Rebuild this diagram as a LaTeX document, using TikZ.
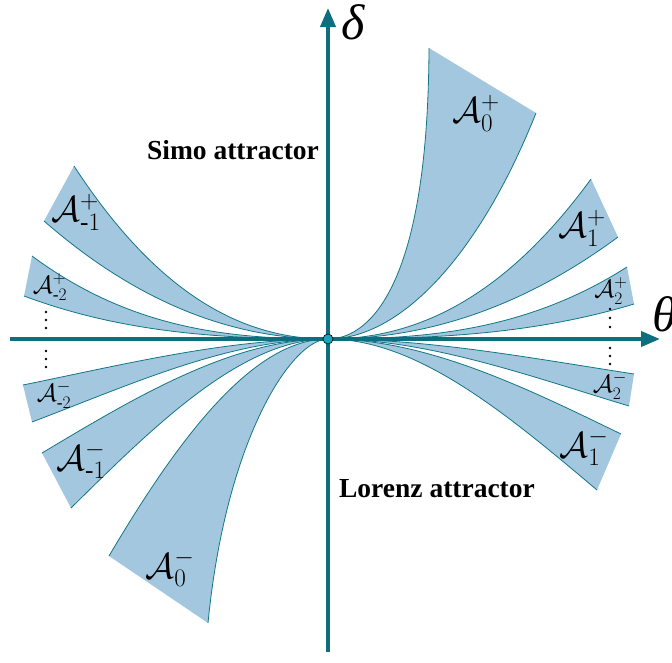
\RequirePackage{fix-cm}
\documentclass[tikz,border=0pt]{standalone}
\usepackage{amsmath}
\usepackage{fontspec}
\setmainfont{Liberation Serif}
\usetikzlibrary{arrows.meta}
\definecolor{axiscol}{RGB}{14,110,128}
\definecolor{bandfill}{RGB}{163,199,223}
\definecolor{bandline}{RGB}{18,118,135}
\definecolor{origfill}{RGB}{26,166,184}
% name, end x, end y, a, b, c
\newcommand{\curvepts}[6]{%
  \coordinate (#1e) at (#2,#3);
  \coordinate (#1a) at ({328+#4*(#2-328)},339);
  \coordinate (#1b) at ({328+#5*(#2-328)},{339+#6*(#3-339)});
}
\newcommand{\bandfrom}[2]{%
  \fill[bandfill] (O) .. controls (#1a) and (#1b) .. (#1e) -- (#2e) .. controls (#2b) and (#2a) .. (O) -- cycle;
  \draw[curve] (O) .. controls (#1a) and (#1b) .. (#1e);
  \draw[curve] (O) .. controls (#2a) and (#2b) .. (#2e);
}
\tikzset{
  curve/.style={draw=bandline, line width=0.8pt},
  axisline/.style={draw=axiscol, line width=4pt, -{Triangle[length=19pt,width=15pt]}},
  biglbl/.style={inner sep=0pt, font=\fontsize{36}{42}\selectfont},
  smalllbl/.style={inner sep=0pt, font=\fontsize{25}{30}\selectfont},
  attr/.style={inner sep=0pt, font=\fontsize{27.5}{32}\selectfont\bfseries},
  axlbl/.style={inner sep=0pt, font=\fontsize{50}{56}\selectfont\itshape},
  dotmark/.style={fill=black}
}
\begin{document}
\begin{tikzpicture}[x=1pt,y=-1pt]
\useasboundingbox (0,0) rectangle (672,662);
\coordinate (O) at (328,339);
% curves
\curvepts{p0i}{429}{48}{0.35}{0.99}{0.137}
\curvepts{p0o}{536}{113}{0.34}{0.72}{0.354}
\curvepts{p1u}{591}{179}{0.333}{0.667}{0.25}
\curvepts{p1l}{618}{237}{0.333}{0.667}{0.3}
\curvepts{p2u}{627}{267}{0.333}{0.667}{0.12}
\curvepts{p2l}{634}{304}{0.333}{0.667}{0.12}
\curvepts{m2u}{634}{374}{0.333}{0.667}{0.55}
\curvepts{m2l}{629}{406}{0.333}{0.667}{0.55}
\curvepts{m1u}{621}{434}{0.333}{0.667}{0.5}
\curvepts{m1l}{597}{490}{0.333}{0.667}{0.5}
\curvepts{m0i}{208}{623}{0.3}{0.85}{0.35}
\curvepts{m0o}{109}{556}{0.333}{0.667}{0.43}
\curvepts{nm1l}{71}{508}{0.333}{0.667}{0.5}
\curvepts{nm1u}{42}{453}{0.333}{0.667}{0.5}
\curvepts{nm2l}{32}{422}{0.333}{0.667}{0.55}
\curvepts{nm2u}{23}{385}{0.333}{0.667}{0.55}
\curvepts{np2l}{24}{296}{0.333}{0.667}{0.12}
\curvepts{np2u}{32}{256}{0.333}{0.667}{0.12}
\curvepts{np1l}{44}{221}{0.333}{0.667}{0.3}
\curvepts{np1u}{74}{166}{0.333}{0.667}{0.25}
% bands
\bandfrom{p0i}{p0o}
\bandfrom{p1u}{p1l}
\bandfrom{p2u}{p2l}
\bandfrom{m2u}{m2l}
\bandfrom{m1u}{m1l}
\bandfrom{m0i}{m0o}
\bandfrom{nm1l}{nm1u}
\bandfrom{nm2l}{nm2u}
\bandfrom{np2l}{np2u}
\bandfrom{np1l}{np1u}
% axes
\coordinate (xl) at (10,339);
\coordinate (xr) at (660,339);
\coordinate (yb) at (328,652);
\coordinate (yt) at (328,8);
\draw[axisline] (xl) -- (xr);
\draw[axisline] (yb) -- (yt);
\node[circle, draw=black, fill=origfill, inner sep=0pt, minimum size=10pt, line width=0.6pt] (orig) at (O) {};
% dots
\foreach \yy in {312,320,328,351,359,367} \fill[dotmark] (46,\yy) circle (1.4pt);
\foreach \yy in {309,318,327,348,356,364} \fill[dotmark] (610,\yy) circle (1.4pt);
% axis labels
\node[axlbl] (dl) at (353,22) {δ};
\node[axlbl, anchor=west] (tl) at (652,314) {θ};
% attractor labels
\node[attr] (simo) at (233,150) {Simo attractor};
\node[attr] (lor) at (437,489) {Lorenz attractor};
% band labels
\node[biglbl] (la0p) at (476,113) {$\mathcal{A}^{+}_{0}$};
\node[biglbl] (la1p) at (582,228) {$\mathcal{A}^{+}_{1}$};
\node[smalllbl] (la2p) at (611,291) {$\mathcal{A}^{+}_{2}$};
\node[smalllbl] (la2m) at (610,386) {$\mathcal{A}^{-}_{2}$};
\node[biglbl] (la1m) at (584,447) {$\mathcal{A}^{-}_{1}$};
\node[biglbl] (la0m) at (170,568) {$\mathcal{A}^{-}_{0}$};
\node[biglbl] (lam1m) at (81,460) {$\mathcal{A}^{-}_{\text{-}1}$};
\node[smalllbl] (lam2m) at (54,395) {$\mathcal{A}^{-}_{\text{-}2}$};
\node[smalllbl] (lam2p) at (50,287) {$\mathcal{A}^{+}_{\text{-}2}$};
\node[biglbl] (lam1p) at (76,212) {$\mathcal{A}^{+}_{\text{-}1}$};
\end{tikzpicture}
\end{document}
